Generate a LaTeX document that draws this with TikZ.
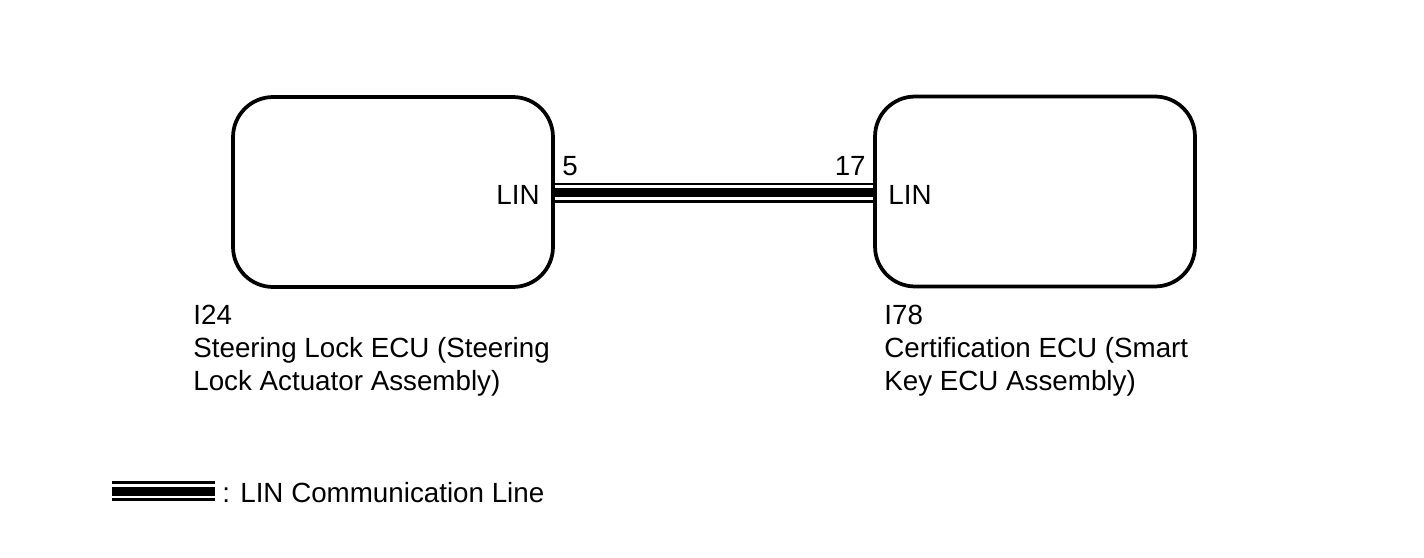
\documentclass[tikz,border=0pt]{standalone}
\usepackage{fontspec}
\setmainfont{Liberation Sans}
\tikzset{
  ecu/.style={draw, line width=0.075cm, rounded corners=0.8cm,
    minimum width=6.4cm, minimum height=3.8cm, inner sep=0pt},
  linbus/.style={draw, line width=0.4cm,
    postaction={draw, white, line width=0.292cm},
    postaction={draw, black, line width=0.18cm}},
  txt/.style={inner sep=0pt, font=\fontsize{15.8}{18.8}\selectfont},
  title/.style={txt, align=left, anchor=north west}
}
\begin{document}
\begin{tikzpicture}[x=0.02cm, y=-0.02cm]
    \useasboundingbox (0, 0) rectangle (1424, 558);

    \coordinate (busl) at (553, 192.5);
    \coordinate (busr) at (876, 192.5);
    \draw [linbus] (busl) -- (busr);

    \node [ecu] (slock) at (393, 192) {};
    \node [ecu] (cert) at (1035, 191.5) {};

    \node [txt, anchor=base east] (linl) at (540, 204) {LIN};
    \node [txt, anchor=base west] (linr) at (888, 204) {LIN};
    \node [txt, anchor=base west] (pin5) at (562, 175) {5};
    \node [txt, anchor=base east] (pin17) at (866, 175) {17};

    \node [title] (tslock) at (193, 305) {I24\\Steering Lock ECU (Steering\\Lock Actuator Assembly)};
    \node [title] (tcert) at (884, 305) {I78\\Certification ECU (Smart\\Key ECU Assembly)};

    \coordinate (legl) at (112, 491);
    \coordinate (legr) at (215, 491);
    \draw [linbus] (legl) -- (legr);
    \node [txt, anchor=base west] (legtxt) at (222, 502) {: LIN Communication Line};
  \end{tikzpicture}
\end{document}
